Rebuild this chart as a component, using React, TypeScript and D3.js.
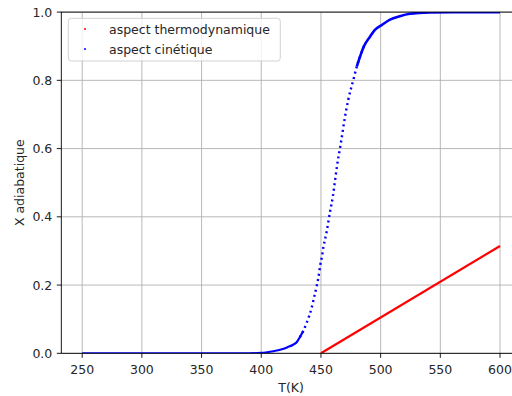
import React from "react";
import * as d3 from "d3";

const xTicks = [250, 300, 350, 400, 450, 500, 550, 600];
const yTicks = [0.0, 0.2, 0.4, 0.6, 0.8, 1.0];

// aspect cinétique (blue)
const kinT = [250, 300, 350, 390, 400, 405, 410, 418, 422, 426.7, 430, 432.3, 435, 437.9, 440, 442.1, 444, 446.3, 448, 449.5, 450.8, 452, 454.8, 457.6, 460, 461.5, 463.5, 465.9, 467.3, 470, 473, 477.1, 480, 482.7, 486, 491.1, 495, 500.9, 507.8, 516, 524.6, 541.4, 560, 600];
const kinX = [0, 0, 0, 0, 0.001, 0.003, 0.006, 0.0126, 0.018, 0.025, 0.034, 0.047, 0.064, 0.088, 0.108, 0.132, 0.16, 0.195, 0.225, 0.26, 0.283, 0.31, 0.356, 0.415, 0.46, 0.498, 0.55, 0.6, 0.63, 0.69, 0.745, 0.801, 0.84, 0.869, 0.9, 0.928, 0.947, 0.962, 0.978, 0.988, 0.995, 0.999, 1.0, 1.0];

// aspect thermodynamique (red)
const thermoT = [450, 600];
const thermoX = [0, 0.3145];

const seriesNames = ["aspect thermodynamique", "aspect cinétique"];

const W = 512, H = 396;
const L = 61.3, R = 520.9, T = 12.1, B = 353.3;
const FONT = "DejaVu Sans, sans-serif";
const FS = 12.5;

export default function App() {
  const x = d3.scaleLinear().domain([232.5, 617.5]).range([L, R]);
  const y = d3.scaleLinear().domain([0, 1]).range([B, T]);

  const kin = kinT.map((t, i) => ({ t, v: kinX[i] }));
  const thermo = thermoT.map((t, i) => ({ t, v: thermoX[i] }));

  const line = d3.line<{ t: number; v: number }>().x(d => x(d.t)).y(d => y(d.v)).curve(d3.curveMonotoneX);

  const lowPart = kin.filter(d => d.v <= 0.065);
  const midPart = kin.filter(d => d.v >= 0.047 && d.v <= 0.9);
  const highPart = kin.filter(d => d.v >= 0.84);

  const grid = "#b0b0b0";
  const txt = "#262626";

  return (
    <div style={{ position: "absolute", left: 0, top: 0 }}>
      <svg width={W} height={H} style={{ display: "block", background: "#fff" }} fontFamily={FONT}>
        <defs>
          <clipPath id="plot">
            <rect x={L} y={T} width={R - L} height={B - T} />
          </clipPath>
        </defs>
        {xTicks.map(t => (
          <line key={"gx" + t} x1={x(t)} x2={x(t)} y1={T} y2={B} stroke={grid} strokeWidth={0.9} />
        ))}
        {yTicks.map(t => (
          <line key={"gy" + t} x1={L} x2={R} y1={y(t)} y2={y(t)} stroke={grid} strokeWidth={0.9} />
        ))}
        <g clipPath="url(#plot)">
          <path d={line(thermo) || ""} fill="none" stroke="#ff0000" strokeWidth={2.2} />
          <path d={line(lowPart) || ""} fill="none" stroke="#0000ff" strokeWidth={2.2} />
          <path d={line(midPart) || ""} fill="none" stroke="#0000ff" strokeWidth={2.4} strokeDasharray="2 3.4" />
          <path d={line(highPart) || ""} fill="none" stroke="#0000ff" strokeWidth={2.6} />
        </g>
        <rect x={L} y={T} width={R - L} height={B - T} fill="none" stroke="#000" strokeWidth={0.9} />
        {xTicks.map(t => (
          <g key={"xt" + t}>
            <line x1={x(t)} x2={x(t)} y1={B} y2={B + 4.5} stroke="#000" strokeWidth={0.9} />
            <text x={x(t)} y={B + 20.5} textAnchor="middle" fontSize={FS} fill={txt}>{t}</text>
          </g>
        ))}
        {yTicks.map(t => (
          <g key={"yt" + t}>
            <line x1={L - 4.5} x2={L} y1={y(t)} y2={y(t)} stroke="#000" strokeWidth={0.9} />
            <text x={L - 9} y={y(t) + 4.5} textAnchor="end" fontSize={FS} fill={txt}>{t.toFixed(1)}</text>
          </g>
        ))}
        <text x={(L + R) / 2} y={391.5} textAnchor="middle" fontSize={FS} fill={txt}>T(K)</text>
        <text transform={`translate(23.5,${(T + B) / 2}) rotate(-90)`} textAnchor="middle" fontSize={FS} fill={txt}>X adiabatique</text>
        <rect x={68.3} y={18.3} width={212} height={42.7} rx={3} fill="#fff" fillOpacity={0.8} stroke="#cccccc" strokeWidth={0.9} />
        <circle cx={85} cy={29} r={1} fill="#ff0000" />
        <circle cx={85} cy={49} r={1} fill="#0000ff" />
        <text x={109} y={33.5} fontSize={FS} fill={txt}>{seriesNames[0]}</text>
        <text x={109} y={53.5} fontSize={FS} fill={txt}>{seriesNames[1]}</text>
      </svg>
    </div>
  );
}
